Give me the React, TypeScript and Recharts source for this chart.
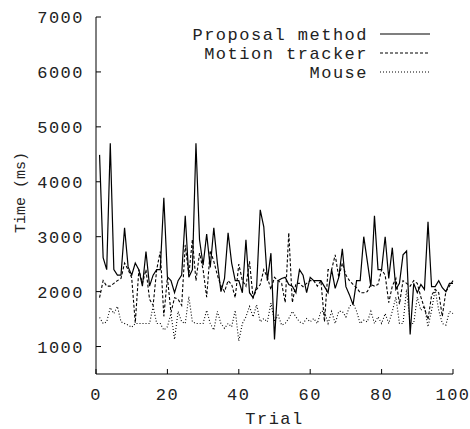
import React from 'react'
import { Legend, Line, LineChart, XAxis, YAxis } from 'recharts'

// values, trial 1..100
const proposal = [
  4490, 2620, 2400, 4700, 2400, 2300, 2300, 3160, 2450, 2300, 2520, 2400, 2100, 2730, 2100, 2300, 2400, 2400, 3710, 2270,
  2200, 1980, 2200, 2300, 3380, 2260, 2400, 4700, 2945, 2480, 3050, 2440, 3160, 2520, 2000, 2240, 3070, 2520, 2200, 2200, 1980,
  2945, 1980, 1890, 2090, 3490, 3180, 2200, 2700, 1130, 2200, 2240, 2260, 2130, 2100, 1980, 2400, 2300, 1980, 2260, 2200, 2200,
  2200, 2090, 1980, 2400, 2060, 2260, 2780, 2090, 1940, 1760, 2200, 2200, 3000, 2550, 2090, 3380, 2400, 2400, 3000, 2240, 2800,
  2040, 2150, 2670, 2740, 1220, 2150, 1980, 2130, 2040, 3270, 2090, 2090, 2200, 2070, 2000, 2150, 2150
]
const tracker = [
  1890, 2200, 2100, 2100, 2150, 2200, 2240, 2520, 2400, 2250, 1430, 2400, 2150, 2400, 1860, 1750, 2400, 2730, 1550, 2260,
  1620, 1890, 1860, 1750, 2850, 2300, 2950, 2200, 2700, 2400, 1900, 2750, 2550, 2300, 2100, 2000, 2200, 2130, 1890, 2500, 2200,
  2100, 2550, 1890, 2040, 2130, 2400, 2260, 2040, 2260, 2200, 2150, 1800, 3070, 1800, 2150, 2150, 2090, 2150, 2200, 2200, 2100,
  2200, 1450, 2400, 2400, 2670, 2260, 2520, 2300, 2200, 2130, 2070, 1980, 1980, 2000, 2130, 2100, 2130, 2400, 2300, 1800, 2100,
  2240, 1770, 2200, 2150, 2100, 2200, 2150, 1900, 1700, 1490, 1930, 2040, 1980, 1550, 2000, 2100, 2200
]
const mouse = [
  1530, 1420, 1450, 1710, 1600, 1730, 1450, 1420, 1390, 1350, 1420, 1420, 1420, 1420, 1420, 1730, 1420, 1420, 1300, 1360,
  1600, 1130, 1640, 1450, 1420, 1910, 1450, 1420, 1420, 1420, 1660, 1420, 1300, 1640, 1420, 1330, 1420, 1360, 1660, 1100, 1420,
  1540, 1730, 1540, 1760, 1450, 1510, 1450, 1790, 1450, 1570, 1390, 1420, 1510, 1640, 1540, 1450, 1420, 1510, 1450, 1510, 1420,
  1640, 1640, 1420, 1640, 1420, 1640, 1640, 1540, 1730, 1790, 1640, 1420, 1480, 1450, 1640, 1420, 1540, 1420, 1600, 1420, 1640,
  1900, 1420, 1420, 2040, 1420, 1420, 1900, 1660, 1730, 1360, 1660, 2040, 1660, 1420, 1390, 1640, 1600
]

const xTicks = [0, 20, 40, 60, 80, 100]
const yTicks = [1000, 2000, 3000, 4000, 5000, 6000, 7000]

const seriesNames = ['Proposal method', 'Motion tracker', 'Mouse']

const data = proposal.map((v, i) => ({
  trial: i + 1,
  proposal: v,
  tracker: tracker[i],
  mouse: mouse[i]
}))

const font = '"Liberation Mono", "DejaVu Sans Mono", monospace'
const dashes = ['', '3 2', '1 2']

const tickStyle = { fontFamily: font, fontSize: 17, fill: '#222', letterSpacing: 1.5 }

function LegendBox() {
  return (
    <svg width={470} height={90} style={{ display: 'block' }}>
      {seriesNames.map((name, i) => {
        const y = 34 + i * 19
        return (
          <g key={name}>
            <text
              x={368}
              y={y}
              dy="0.35em"
              textAnchor="end"
              fontFamily={font}
              fontSize={17}
              letterSpacing={1.5}
              fill="#222"
            >
              {name}
            </text>
            <line x1={380} x2={430} y1={y} y2={y} stroke="#000" strokeWidth={1.1} strokeDasharray={dashes[i] || undefined} />
          </g>
        )
      })}
    </svg>
  )
}

export default function App() {
  return (
    <div style={{ position: 'absolute', left: 0, top: 0, background: '#fff' }}>
      <LineChart width={470} height={429} data={data} margin={{ top: 17, right: 17, left: 0, bottom: 0 }}>
        <XAxis
          dataKey="trial"
          type="number"
          domain={[0, 100]}
          ticks={xTicks}
          height={55}
          stroke="#000"
          tickSize={-5}
          tickMargin={19}
          tick={tickStyle}
          label={{ value: 'Trial', position: 'insideBottom', offset: 0, dy: -5, style: { ...tickStyle, fill: '#222' } }}
        />
        <XAxis xAxisId="top" orientation="top" dataKey="trial" type="number" domain={[0, 100]} ticks={xTicks} height={0} stroke="#000" tickSize={-5} tick={false} />
        <YAxis
          type="number"
          domain={[500, 7000]}
          ticks={yTicks}
          width={96}
          stroke="#000"
          tickSize={-5}
          tickMargin={17}
          tick={tickStyle}
          label={{ value: 'Time (ms)', angle: -90, position: 'insideLeft', offset: 0, dx: 20, dy: -3, style: { fontFamily: font, fontSize: 15, fill: '#222', textAnchor: 'middle' } }}
        />
        <YAxis yAxisId="right" orientation="right" type="number" domain={[500, 7000]} ticks={yTicks} width={0} stroke="#000" tickSize={-5} tick={false} />
        <Legend layout="vertical" align="center" verticalAlign="middle" content={() => <LegendBox />} wrapperStyle={{ position: 'absolute', left: 0, top: 0, width: 470, height: 90 }} />
        <Line dataKey="proposal" name={seriesNames[0]} stroke="#000" strokeWidth={1.2} dot={false} isAnimationActive={false} />
        <Line dataKey="tracker" name={seriesNames[1]} stroke="#000" strokeWidth={1.1} strokeDasharray="3 2" dot={false} isAnimationActive={false} />
        <Line dataKey="mouse" name={seriesNames[2]} stroke="#000" strokeWidth={1.1} strokeDasharray="1 2" dot={false} isAnimationActive={false} />
      </LineChart>
    </div>
  )
}
